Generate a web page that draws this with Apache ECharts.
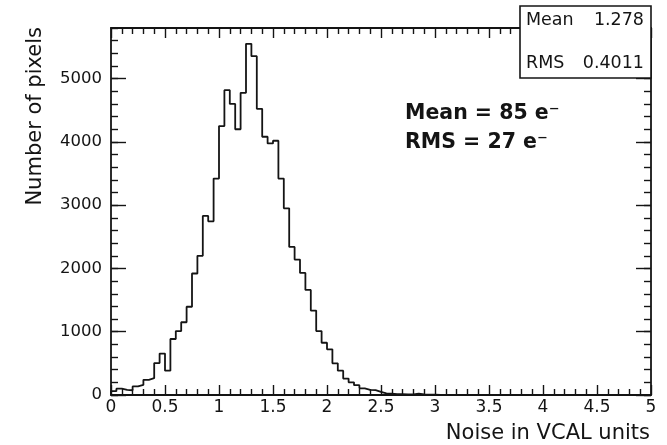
<!DOCTYPE html>
<html>
<head>
<meta charset="utf-8">
<script src="https://cdn.jsdelivr.net/npm/echarts@6/dist/echarts.min.js"></script>
<style>
html,body{margin:0;padding:0;background:#fff;}
#c{width:667px;height:445px;}
</style>
</head>
<body>
<div id="c"></div>
<script>
// ---- data ----
const xRange = [0, 5];
const binWidth = 0.05;
const yRange = [0, 5800];
const xTicks = [0, 0.5, 1, 1.5, 2, 2.5, 3, 3.5, 4, 4.5, 5];
const yTicks = [0, 1000, 2000, 3000, 4000, 5000];
const binCounts = [
  60, 100, 80, 75, 135, 160, 240, 265, 505, 655,
  385, 885, 1010, 1150, 1395, 1920, 2200, 2830, 2745, 3420,
  4250, 4818, 4600, 4200, 4776, 5550, 5355, 4523, 4081, 3976,
  4018, 3420, 2950, 2340, 2140, 1930, 1660, 1335, 1011, 826,
  722, 500, 384, 260, 200, 155, 105, 82, 76, 50,
  25, 20, 15, 12, 8, 10, 22, 8, 5, 4,
  3, 2, 2, 1, 1, 0, 1, 0, 0, 0,
  0, 0, 0, 0, 0, 0, 0, 0, 0, 0,
  0, 0, 0, 0, 0, 0, 0, 0, 0, 0,
  0, 0, 0, 0, 0, 0, 0, 0, 0, 0
];
const statLabels = ['Mean', 'RMS'];
const statValues = ['1.278', '0.4011'];
const noteLines = ['Mean = 85 e\u207B', 'RMS = 27 e\u207B'];
const xTitle = 'Noise in VCAL units';
const yTitle = 'Number of pixels';

// ---- build step outline from bins ----
const pts = [[xRange[0], 0]];
binCounts.forEach((c, i) => pts.push([xRange[0] + i * binWidth, c]));
pts.push([xRange[1], binCounts[binCounts.length - 1]]);

const ink = '#141414';
const FONT = '"DejaVu Sans", sans-serif';

function xAx(pos, labels) {
  return {
    type: 'value', position: pos, min: xRange[0], max: xRange[1],
    interval: xTicks[1] - xTicks[0],
    axisLine: { show: true, onZero: false, lineStyle: { color: ink, width: 1.8 } },
    axisTick: { show: true, inside: true, length: 10, lineStyle: { color: ink, width: 1.4 } },
    minorTick: { show: true, splitNumber: 5, length: 6, lineStyle: { color: ink, width: 1.4 } },
    axisLabel: { show: labels, margin: 4, fontFamily: FONT, fontSize: 17, color: ink },
    splitLine: { show: false }
  };
}
function yAx(pos, interval, tickLen, line, labels) {
  return {
    type: 'value', position: pos, min: yRange[0], max: yRange[1], interval: interval,
    axisLine: { show: line, onZero: false, lineStyle: { color: ink, width: 1.8 } },
    axisTick: { show: true, inside: true, length: tickLen, lineStyle: { color: ink, width: 1.4 } },
    axisLabel: {
      show: labels, margin: 9, fontFamily: FONT, fontSize: 16.5, color: ink,
      showMaxLabel: false, padding: [8, 0, 0, 0],
      formatter: v => (yTicks.indexOf(v) >= 0 ? String(v) : '')
    },
    splitLine: { show: false }
  };
}

const txt = (text, x, y, font, align, extra) => Object.assign({
  type: 'text', x: x, y: y, z: 101,
  style: { text: text, font: font, fill: ink, textAlign: align, align: align,
           textVerticalAlign: 'middle', verticalAlign: 'middle' }
}, extra || {});

const chart = echarts.init(document.getElementById('c'), null, { renderer: 'canvas' });
chart.setOption({
  animation: false,
  backgroundColor: '#fff',
  grid: { left: 111, right: 16, top: 28, bottom: 50 },
  xAxis: [xAx('bottom', true), xAx('top', false)],
  yAxis: [
    yAx('left', yTicks[1] - yTicks[0], 15, true, true),
    yAx('left', 200, 7, false, false),
    yAx('right', yTicks[1] - yTicks[0], 15, true, false),
    yAx('right', 200, 7, false, false)
  ],
  series: [{
    type: 'line', xAxisIndex: 0, yAxisIndex: 0, step: 'end',
    showSymbol: false, symbol: 'none', data: pts,
    lineStyle: { color: ink, width: 1.8 }, z: 5
  }],
  graphic: [
    txt(yTitle, 35.5, 27, '21px ' + FONT, 'right', { rotation: Math.PI / 2 }),
    txt(xTitle, 650, 434, '21px ' + FONT, 'right'),
    txt(noteLines[0], 405, 114, 'bold 20.5px ' + FONT, 'left'),
    txt(noteLines[1], 405, 142.5, 'bold 20.5px ' + FONT, 'left'),
    { type: 'rect', z: 100, shape: { x: 520, y: 6, width: 131, height: 72 },
      style: { fill: '#fff', stroke: ink, lineWidth: 1.6 } },
    txt(statLabels[0], 526, 20, '17.5px ' + FONT, 'left'),
    txt(statValues[0], 644, 20, '17.5px ' + FONT, 'right'),
    txt(statLabels[1], 526, 63, '17.5px ' + FONT, 'left'),
    txt(statValues[1], 644, 63, '17.5px ' + FONT, 'right')
  ]
});
</script>
</body>
</html>
